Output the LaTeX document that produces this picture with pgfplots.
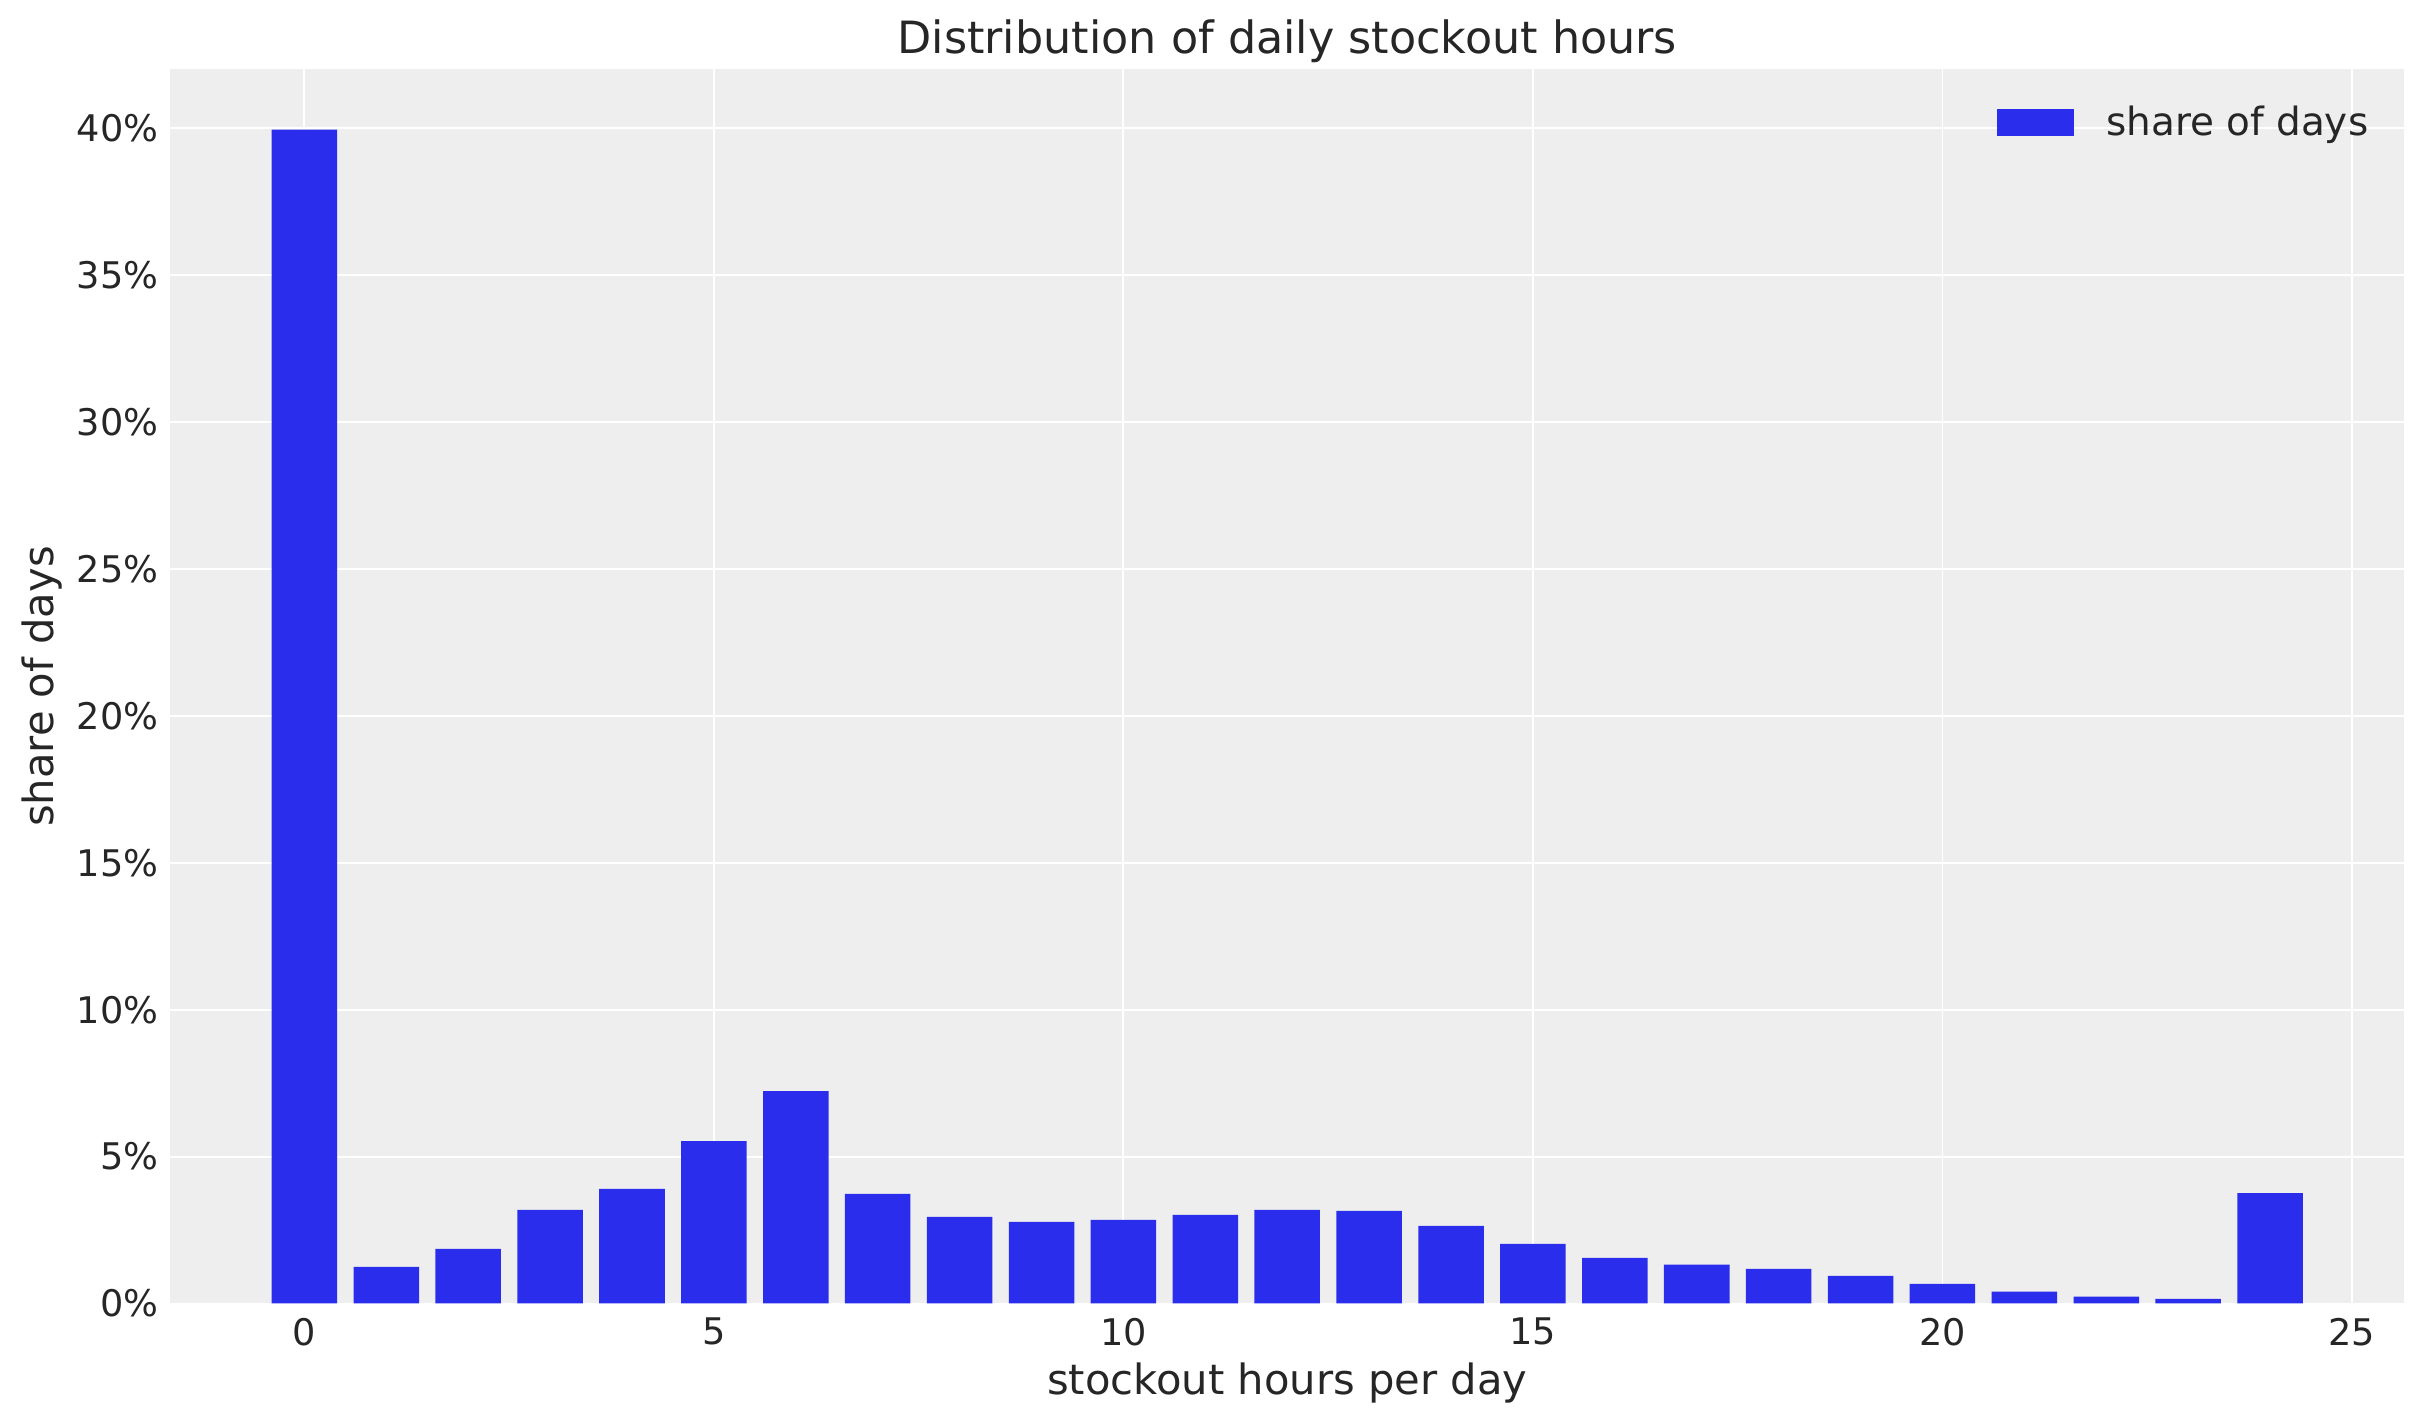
\documentclass[border=0pt]{standalone}
\usepackage{fontspec}
\setmainfont{DejaVu Sans}
\usepackage{pgfplots}
\pgfplotsset{compat=1.18}
\definecolor{barblue}{HTML}{2A2EEC}
\definecolor{bgc}{HTML}{EEEEEE}
\definecolor{txt}{HTML}{262626}
\begin{document}
\begin{tikzpicture}
\path[use as bounding box] (-61.2pt,-42.9pt) rectangle (810.8pt,469.1pt);
\begin{axis}[
  at={(0,0)}, anchor=south west,
  scale only axis, width=804.1pt, height=444.1pt,
  xmin=-1.64, xmax=25.64, ymin=0, ymax=42,
  xtick={0,5,10,15,20,25}, ytick={0,5,10,15,20,25,30,35,40},
  yticklabel={\pgfmathprintnumber[assume math mode=true]{\tick}\%},
  /pgf/number format/assume math mode=true,
  axis background/.style={fill=bgc},
  axis line style={draw=none},
  tick style={draw=none},
  grid=major,
  major grid style={white, line width=0.7pt},
  every tick label/.append style={font=\fontsize{13.2}{16}\selectfont, text=txt},
  yticklabel style={anchor=east, inner sep=0pt, xshift=-4pt},
  xticklabel style={anchor=north, inner sep=0pt, yshift=-5pt},
  title={Distribution of daily stockout hours},
  title style={at={(0.5,1)}, anchor=base, yshift=-0.4pt, inner sep=0pt, font=\fontsize{16}{19}\selectfont, text=txt},
  xlabel={stockout hours per day},
  xlabel style={at={(0.5,0)}, anchor=base, yshift=-32.8pt, inner sep=0pt, font=\fontsize{15}{18}\selectfont, text=txt},
  ylabel={share of days},
  ylabel style={at={(0,0.5)}, anchor=base, yshift=42pt, inner sep=0pt, font=\fontsize{15}{18}\selectfont, text=txt},
  legend style={at={(1,1)}, anchor=north east, xshift=-12.8pt, yshift=-12.8pt,
    draw=none, fill=none, inner sep=0pt, font=\fontsize{14}{17}\selectfont, text=txt,
    nodes={inner sep=0pt}, column sep=0pt},
  legend image code/.code={\fill[barblue] (0pt,-4.75pt) rectangle (27.8pt,4.75pt); \path (39.5pt,0pt);},
]
\addplot[ybar, bar width=0.8, draw=none, fill=barblue] coordinates {
(0,39.95) (1,1.25) (2,1.86) (3,3.19) (4,3.90) (5,5.53) (6,7.23) (7,3.73)
(8,2.95) (9,2.78) (10,2.85) (11,3.02) (12,3.19) (13,3.15) (14,2.64) (15,2.03)
(16,1.55) (17,1.32) (18,1.18) (19,0.94) (20,0.67) (21,0.40) (22,0.23) (23,0.16)
(24,3.76)};
\addlegendentry{share of days}
\end{axis}
\end{tikzpicture}
\end{document}
